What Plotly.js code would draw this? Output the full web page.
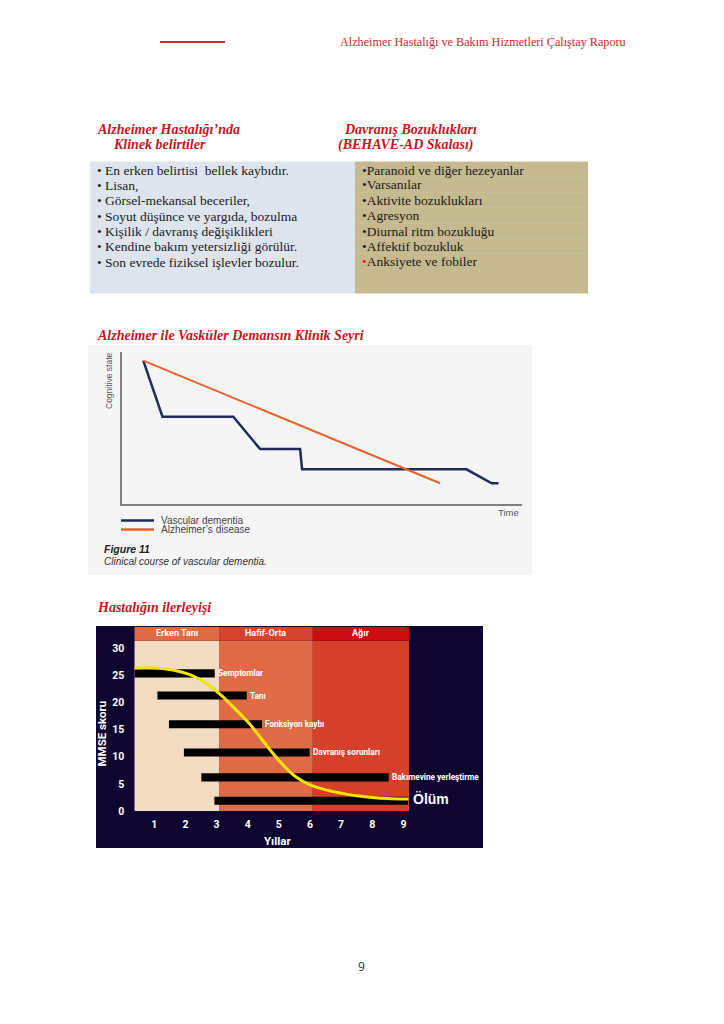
<!DOCTYPE html>
<html><head><meta charset="utf-8">
<script src="https://cdn.plot.ly/plotly-3.0.1.min.js"></script>
<style>html,body{margin:0;padding:0;background:#fff;}#chart{width:724px;height:1024px;}</style>
</head><body><div id="chart"></div>
<script>
// ---------- page texts ----------
const headerText = 'Alzheimer Hastalığı ve Bakım Hizmetleri Çalıştay Raporu';
const leftTitle = ['Alzheimer Hastalığı’nda', 'Klinek belirtiler'];
const rightTitle = ['Davranış Bozuklukları', '(BEHAVE-AD Skalası)'];
const leftItems = ['En erken belirtisi  bellek kaybıdır.', 'Lisan,', 'Görsel-mekansal beceriler,',
  'Soyut düşünce ve yargıda, bozulma', 'Kişilik / davranış değişiklikleri',
  'Kendine bakım yetersizliği görülür.', 'Son evrede fiziksel işlevler bozulur.'];
const rightItems = ['Paranoid ve diğer hezeyanlar', 'Varsanılar', 'Aktivite bozuklukları', 'Agresyon',
  'Diurnal ritm bozukluğu', 'Affektif bozukluk', 'Anksiyete ve fobiler'];
const section2Title = 'Alzheimer ile Vasküler Demansın Klinik Seyri';
const section3Title = 'Hastalığın ilerleyişi';
const pageNumber = '9';

// ---------- chart 1: clinical course ----------
const seriesNames = ['Vascular dementia', 'Alzheimer’s disease'];
const vascTime = [5.4, 10.2, 27.9, 34.6, 44.6, 45.1, 86.2, 92.5, 94.2];
const vascCog  = [94.1, 57.4, 57.4, 36.2, 36.2, 22.9, 22.9, 13.8, 13.8];
const alzTime  = [5.4, 79.6];
const alzCog   = [94.1, 13.8];
const axis1Titles = ['Time', 'Cognitive state'];
const figCaption = ['Figure 11', 'Clinical course of vascular dementia.'];

// ---------- chart 2: disease progression ----------
const stageNames = ['Erken Tanı', 'Hafif-Orta', 'Ağır'];
const stageEdges = [0.357, 3.08, 6.09, 9.18];
const eventNames = ['Semptomlar', 'Tanı', 'Fonksiyon kaybı', 'Davranış sorunları', 'Bakımevine yerleştirme', 'Ölüm'];
const eventStart = [0.36, 1.10, 1.47, 1.95, 2.51, 2.93];
const eventEnd   = [2.94, 3.97, 4.46, 5.99, 8.53, 9.15];
const eventScore = [25.4, 21.3, 16.0, 10.8, 6.2, 1.9];
const curveYears = [0.36, 1.0, 1.6, 2.2, 2.7, 3.16, 3.6, 4.07, 4.4, 4.77, 5.15, 5.52, 6.0, 6.5, 7.0, 7.5, 8.0, 8.5, 9.16];
const curveMMSE  = [26.4, 26.4, 26.0, 25.0, 23.4, 21.3, 18.8, 16.0, 13.6, 10.9, 8.4, 6.4, 4.8, 3.9, 3.3, 2.8, 2.5, 2.3, 2.2];
const yearTicks = [1, 2, 3, 4, 5, 6, 7, 8, 9];
const mmseTicks = [0, 5, 10, 15, 20, 25, 30];
const axis2Titles = ['Yıllar', 'MMSE skoru'];

// ---------- helpers ----------
const W = 724, H = 1024;
const px = x => x / W, py = y => 1 - y / H;
const SERIF = 'Liberation Serif, Times New Roman, serif';
const SANS = 'Liberation Sans, Arial, sans-serif';
const NARROW = 'Roboto, Liberation Sans, sans-serif';
const RED = '#c3161c';
const stageBg = ['#f1dcc1', '#e16b47', '#d5402a'];
const stageHead = ['#e06a45', '#d8432e', '#cc0b12'];

const ann = [];
function txt(text, x, y, o) {
  ann.push(Object.assign({text: text, x: px(x), y: py(y), xref: 'paper', yref: 'paper',
    xanchor: 'left', yanchor: 'middle', showarrow: false, borderpad: 0,
    font: {family: SERIF, size: 13.5, color: '#1a1a1a'}}, o || {}));
}
const shapes = [];
function prect(x0, y0, x1, y1, fill) {
  shapes.push({type: 'rect', xref: 'paper', yref: 'paper', x0: px(x0), x1: px(x1), y0: py(y1), y1: py(y0),
    fillcolor: fill, line: {width: 0}, layer: 'below'});
}
function pline(x0, y0, x1, y1, color, w) {
  shapes.push({type: 'line', xref: 'paper', yref: 'paper', x0: px(x0), x1: px(x1), y0: py(y0), y1: py(y1),
    line: {color: color, width: w}, layer: 'below'});
}

// header
pline(160, 42, 225, 42, '#d42a2a', 2);
txt(headerText, 339, 42, {font: {family: SERIF, size: 12.2, color: '#c8282e'}});

// table
prect(90, 161.5, 355, 293.5, '#dde4ee');
prect(355, 161.5, 588, 293.5, '#c4b98f');
const titleFont = {family: SERIF, size: 14, color: RED};
txt('<b><i>' + leftTitle[0] + '</i></b>', 96, 129, {font: titleFont});
txt('<b><i>' + leftTitle[1] + '</i></b>', 112, 144.5, {font: titleFont});
txt('<b><i>' + rightTitle[0] + '</i></b>', 343, 129, {font: titleFont});
txt('<b><i>' + rightTitle[1] + '</i></b>', 337, 144.5, {font: titleFont});
const leftY = [170, 185, 200.5, 216, 231, 246.5, 262];
const rightY = [170, 184.5, 200, 215.5, 231, 246, 261.5];
leftItems.forEach((t, i) => txt('• ' + t, 96, leftY[i]));
rightItems.forEach((t, i) => txt((i === rightItems.length - 1 ? '<span style="color:#e02020">•</span>' : '•') + t, 360.5, rightY[i]));
for (let i = 0; i < rightY.length - 1; i++) pline(357, (rightY[i] + rightY[i + 1]) / 2, 586, (rightY[i] + rightY[i + 1]) / 2, '#cbc29e', 0.8);

// section titles
txt('<b><i>' + section2Title + '</i></b>', 96, 335, {font: titleFont});
txt('<b><i>' + section3Title + '</i></b>', 96, 607, {font: titleFont});

// chart 1 frame & texts
prect(88, 345, 532, 575, '#f5f5f5');
txt(axis1Titles[1], 109, 381, {textangle: -90, xanchor: 'center', font: {family: SANS, size: 8.5, color: '#555'}});
txt(axis1Titles[0], 508, 512.5, {xanchor: 'center', font: {family: SANS, size: 9.5, color: '#555'}});
pline(121, 520.5, 154, 520.5, '#202a5c', 2.5);
pline(121, 529.5, 154, 529.5, '#e8622d', 2.5);
txt(seriesNames[0], 160, 520.5, {font: {family: SANS, size: 10, color: '#444'}});
txt(seriesNames[1], 160, 529.5, {font: {family: SANS, size: 10, color: '#444'}});
txt('<b><i>' + figCaption[0] + '</i></b>', 103, 549, {font: {family: SANS, size: 10.5, color: '#222'}});
txt('<i>' + figCaption[1] + '</i>', 103, 561, {font: {family: SANS, size: 10, color: '#333'}});

// chart 2 frame
prect(96, 626, 483, 848, '#0e0631');
stageNames.forEach((n, i) => {
  shapes.push({type: 'rect', xref: 'x2', yref: 'y2', x0: stageEdges[i], x1: stageEdges[i + 1], y0: 0, y1: 31.4,
    fillcolor: stageBg[i], line: {width: 0}, layer: 'below'});
  shapes.push({type: 'rect', xref: 'x2', yref: 'y2', x0: stageEdges[i], x1: stageEdges[i + 1], y0: 31.4, y1: 34,
    fillcolor: stageHead[i], line: {width: 0}, layer: 'below'});
  ann.push({text: '<b>' + n + '</b>', xref: 'x2', yref: 'y2', x: (stageEdges[i] + stageEdges[i + 1]) / 2, y: 32.75,
    showarrow: false, xanchor: 'center', yanchor: 'middle', font: {family: NARROW, size: 9, color: '#fff'}});
});
eventNames.forEach((n, i) => {
  const last = i === eventNames.length - 1;
  ann.push({text: '<b>' + n + '</b>', xref: 'x2', yref: 'y2', x: eventEnd[i], y: eventScore[i] + (last ? 0.3 : 0),
    showarrow: false, xanchor: 'left', yanchor: 'middle', xshift: last ? 4 : 2, borderpad: 0,
    font: last ? {family: SANS, size: 14, color: '#fff'} : {family: NARROW, size: 8.2, color: '#fff'}});
});
txt('<b>' + axis2Titles[1] + '</b>', 101.5, 733, {textangle: -90, xanchor: 'center', font: {family: NARROW, size: 11.5, color: '#fff'}});
txt('<b>' + axis2Titles[0] + '</b>', 278, 841, {xanchor: 'center', font: {family: NARROW, size: 11.5, color: '#fff'}});

// page number
txt(pageNumber, 361, 966, {xanchor: 'center', font: {family: 'Open Sans, Liberation Sans, sans-serif', size: 12, color: '#333'}});

// ---------- traces ----------
const traces = [
  {type: 'scatter', mode: 'lines', x: vascTime, y: vascCog, name: seriesNames[0], xaxis: 'x', yaxis: 'y',
   line: {color: '#202a5c', width: 2.5}, hoverinfo: 'skip'},
  {type: 'scatter', mode: 'lines', x: alzTime, y: alzCog, name: seriesNames[1], xaxis: 'x', yaxis: 'y',
   line: {color: '#e8622d', width: 2}, hoverinfo: 'skip'},
  {type: 'bar', orientation: 'h', y: eventScore, x: eventEnd.map((e, i) => e - eventStart[i]), base: eventStart,
   width: 1.5, marker: {color: '#000', line: {width: 0}}, xaxis: 'x2', yaxis: 'y2', hoverinfo: 'skip'},
  {type: 'scatter', mode: 'lines', x: curveYears, y: curveMMSE, xaxis: 'x2', yaxis: 'y2',
   line: {color: '#f3e400', width: 3, shape: 'spline', smoothing: 0.9}, hoverinfo: 'skip'}
];

const tickF = {family: NARROW, size: 10.5, color: '#fff', weight: 'bold'};
const layout = {
  width: W, height: H, margin: {l: 0, r: 0, t: 0, b: 0}, showlegend: false,
  paper_bgcolor: '#ffffff', plot_bgcolor: 'rgba(0,0,0,0)',
  xaxis: {domain: [px(121.7), px(521.7)], range: [0, 100], anchor: 'y', showline: true, linecolor: '#808080', linewidth: 1.5,
          showgrid: false, zeroline: false, showticklabels: false, ticks: '', fixedrange: true},
  yaxis: {domain: [py(504.3), py(351.7)], range: [0, 100], anchor: 'x', showline: true, linecolor: '#808080', linewidth: 1.5,
          showgrid: false, zeroline: false, showticklabels: false, ticks: '', fixedrange: true},
  xaxis2: {domain: [px(134.3), px(409)], range: [stageEdges[0], stageEdges[3]], anchor: 'y2', showgrid: false, zeroline: false,
           showline: false, tickvals: yearTicks, ticktext: yearTicks.map(String), ticks: '', tickfont: tickF, ticklabelstandoff: 5, fixedrange: true},
  yaxis2: {domain: [py(811), py(626.7)], range: [0, 34], anchor: 'x2', showgrid: false, zeroline: false,
           showline: false, tickvals: mmseTicks, ticktext: mmseTicks.map(String), ticks: '', tickfont: tickF, ticklabelstandoff: 9, fixedrange: true},
  shapes: shapes, annotations: ann
};
Plotly.newPlot('chart', traces, layout, {staticPlot: true, displayModeBar: false});
</script></body></html>
